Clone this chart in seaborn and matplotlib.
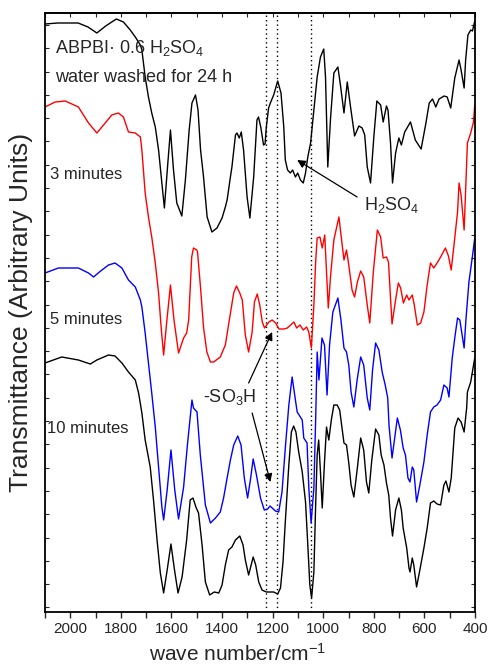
import numpy as np
import pandas as pd
import matplotlib
matplotlib.use("Agg")
import matplotlib.pyplot as plt
import seaborn as sns

# ---------------- data (wavenumber cm-1, transmittance arbitrary units) ----------------
wn_24h = [2100, 2050, 1969, 1930, 1895, 1860, 1818, 1790, 1763, 1743, 1723, 1717, 1704, 1691, 1678,
          1664, 1651, 1638, 1628, 1615, 1604, 1592, 1579, 1559, 1545, 1530, 1519, 1505, 1495, 1485,
          1474, 1459, 1440, 1420, 1400, 1387, 1380, 1367, 1361, 1347, 1341, 1332, 1324, 1315, 1301,
          1290, 1275, 1262, 1256, 1247, 1236, 1230, 1225, 1216, 1209, 1196, 1180, 1167, 1156, 1150,
          1141, 1130, 1121, 1110, 1101, 1090, 1079, 1070, 1061, 1050, 1037, 1024, 1011, 998, 991,
          982, 971, 958, 942, 931, 918, 905, 892, 876, 859, 846, 836, 826, 813, 800,
          788, 773, 763, 750, 744, 734, 726, 714, 701, 691, 678, 655, 636, 613, 594,
          581, 568, 555, 542, 522, 510, 496, 480, 463, 455, 443, 437, 428, 417, 410, 401]
t_24h = [588, 589, 589, 585, 579, 586, 593, 590, 582, 575, 567, 562, 535, 515, 499,
         485, 462, 429, 404, 447, 482, 442, 409, 396, 432, 482, 509, 517, 502, 462,
         437, 395, 380, 384, 394, 405, 412, 435, 445, 477, 479, 474, 480, 462, 415,
         394, 435, 492, 495, 485, 467, 468, 485, 504, 509, 517, 531, 519, 485, 452,
         442, 439, 442, 435, 439, 432, 429, 439, 455, 469, 502, 535, 555, 563, 535,
         445, 494, 539, 545, 525, 499, 530, 505, 476, 486, 484, 477, 445, 429, 475,
         511, 507, 490, 506, 502, 469, 429, 459, 474, 467, 480, 490, 472, 463, 489,
         509, 513, 505, 513, 516, 515, 504, 534, 552, 542, 524, 552, 577, 582, 581, 591]

wn_3m = [2100, 2060, 2020, 1968, 1928, 1895, 1862, 1836, 1810, 1790, 1770, 1743, 1723, 1717, 1704,
         1691, 1678, 1664, 1651, 1640, 1631, 1618, 1604, 1590, 1572, 1552, 1540, 1532, 1520, 1513,
         1500, 1497, 1485, 1473, 1460, 1446, 1433, 1407, 1387, 1370, 1354, 1343, 1330, 1320, 1308,
         1295, 1281, 1272, 1261, 1251, 1241, 1232, 1215, 1202, 1188, 1175, 1156, 1142, 1129, 1116,
         1105, 1092, 1079, 1066, 1057, 1047, 1037, 1030, 1024, 1013, 1004, 994, 984, 980, 971,
         958, 938, 925, 918, 908, 899, 886, 876, 865, 852, 840, 826, 816, 802, 786,
         773, 763, 750, 742, 734, 728, 714, 703, 694, 683, 670, 661, 648, 640, 628,
         615, 602, 589, 576, 563, 550, 536, 517, 505, 494, 480, 469, 463, 455, 443,
         430, 417, 406, 401]
t_3m = [505, 510, 511, 505, 489, 479, 489, 497, 499, 495, 480, 479, 475, 462, 419,
        395, 375, 349, 319, 282, 257, 292, 327, 292, 259, 274, 279, 292, 355, 364,
        362, 360, 324, 284, 260, 250, 250, 255, 267, 294, 319, 326, 319, 312, 277,
        260, 280, 310, 318, 307, 290, 284, 290, 292, 289, 283, 283, 284, 287, 290,
        284, 287, 282, 285, 280, 264, 307, 350, 374, 375, 364, 377, 324, 304, 336,
        372, 395, 367, 352, 362, 347, 322, 315, 330, 341, 335, 307, 289, 340, 382,
        375, 354, 355, 350, 314, 288, 312, 329, 324, 309, 317, 312, 317, 307, 287,
        289, 300, 327, 349, 344, 349, 355, 364, 356, 342, 374, 400, 429, 417, 382,
        469, 479, 490, 507]

wn_5m = [2100, 2047, 1968, 1928, 1908, 1885, 1849, 1823, 1796, 1770, 1743, 1723, 1717, 1704, 1691,
         1678, 1664, 1651, 1638, 1631, 1617, 1602, 1587, 1572, 1552, 1537, 1519, 1513, 1499, 1486,
         1466, 1446, 1426, 1407, 1394, 1380, 1367, 1354, 1338, 1325, 1312, 1299, 1288, 1277, 1264,
         1248, 1233, 1220, 1210, 1202, 1189, 1176, 1163, 1149, 1136, 1123, 1110, 1103, 1083, 1077,
         1064, 1057, 1048, 1037, 1030, 1024, 1017, 1005, 995, 985, 975, 962, 942, 930, 918,
         908, 899, 890, 879, 866, 852, 840, 826, 816, 805, 793, 780, 767, 755, 745,
         740, 728, 707, 695, 684, 675, 665, 657, 648, 642, 631, 618, 602, 589, 576,
         563, 550, 536, 523, 510, 503, 490, 480, 469, 460, 443, 436, 424, 411, 401]
t_5m = [339, 344, 344, 339, 335, 340, 347, 349, 344, 332, 325, 312, 305, 279, 249,
        219, 185, 145, 105, 92, 122, 162, 122, 93, 125, 167, 212, 204, 200, 157,
        107, 89, 94, 100, 114, 134, 152, 167, 176, 167, 134, 114, 132, 153, 137,
        114, 102, 103, 106, 104, 101, 100, 120, 167, 207, 235, 212, 200, 192, 174,
        169, 124, 89, 124, 192, 260, 232, 274, 267, 217, 267, 300, 314, 292, 264,
        260, 247, 220, 205, 232, 255, 247, 214, 202, 242, 269, 262, 240, 227, 214,
        187, 154, 194, 182, 164, 157, 134, 130, 145, 142, 110, 127, 150, 177, 200,
        205, 207, 212, 227, 224, 215, 254, 274, 294, 292, 264, 292, 330, 354, 374]

wn_10m = [2100, 2034, 1968, 1921, 1895, 1849, 1823, 1796, 1770, 1743, 1730, 1717, 1704, 1684, 1671,
          1657, 1644, 1631, 1617, 1602, 1588, 1574, 1558, 1540, 1526, 1515, 1502, 1493, 1479, 1466,
          1449, 1431, 1413, 1400, 1387, 1374, 1361, 1347, 1330, 1317, 1308, 1295, 1277, 1267, 1255,
          1242, 1225, 1209, 1196, 1180, 1169, 1159, 1150, 1136, 1126, 1117, 1108, 1097, 1083, 1070,
          1061, 1053, 1046, 1037, 1030, 1024, 1018, 1011, 1004, 995, 987, 978, 968, 958, 945,
          935, 918, 908, 899, 890, 879, 866, 852, 840, 829, 820, 808, 793, 780, 771,
          760, 750, 741, 734, 726, 714, 701, 691, 684, 670, 661, 657, 648, 642, 631,
          618, 602, 589, 576, 563, 550, 536, 523, 515, 503, 494, 480, 467, 455, 443,
          433, 430, 417, 401]
t_10m = [249, 255, 252, 248, 252, 257, 256, 249, 240, 232, 219, 199, 172, 145, 112,
         72, 39, 19, 42, 68, 42, 19, 35, 72, 112, 114, 104, 99, 67, 30,
         17, 20, 19, 27, 47, 62, 65, 72, 76, 67, 52, 37, 55, 47, 30,
         22, 20, 20, 20, 18, 24, 50, 90, 147, 180, 186, 180, 160, 140, 110,
         67, 27, 14, 40, 107, 157, 172, 140, 104, 150, 185, 172, 192, 207, 207,
         202, 169, 167, 149, 127, 115, 142, 174, 162, 130, 119, 152, 183, 177, 157,
         147, 129, 117, 94, 76, 102, 114, 102, 84, 64, 44, 40, 54, 47, 25,
         42, 64, 84, 109, 111, 108, 107, 127, 131, 120, 134, 184, 194, 190, 180,
         204, 220, 230, 254]

series_names = ["24 h", "3 minutes", "5 minutes", "10 minutes"]
series_colors = ["black", "red", "blue", "black"]
marker_lines = [1225, 1183, 1047]          # dotted reference wavenumbers
x_ticks = [2000, 1800, 1600, 1400, 1200, 1000, 800, 600, 400]

# ---------------- figure ----------------
sns.set_style("ticks")
plt.rcParams["font.family"] = ["Liberation Sans", "DejaVu Sans"]
plt.rcParams["mathtext.fontset"] = "custom"
plt.rcParams["mathtext.rm"] = "Liberation Sans"
plt.rcParams["mathtext.it"] = "Liberation Sans:italic"
plt.rcParams["mathtext.bf"] = "Liberation Sans:bold"

fig = plt.figure(figsize=(4.89, 6.66), dpi=100)
ax = fig.add_axes([45 / 489, 1 - 612 / 666, 430 / 489, 599 / 666])

frames = []
for name, wn, t in zip(series_names, [wn_24h, wn_3m, wn_5m, wn_10m], [t_24h, t_3m, t_5m, t_10m]):
    frames.append(pd.DataFrame({"wavenumber": wn, "T": t, "sample": name}))
df = pd.concat(frames, ignore_index=True)

for name, col in zip(series_names, series_colors):
    sub = df[df["sample"] == name]
    sns.lineplot(data=sub, x="wavenumber", y="T", color=col, lw=1.0, ax=ax,
                 errorbar=None, legend=False)

for xv in marker_lines:
    ax.axvline(xv, color="black", lw=1.0, ls=(0, (1, 2.2)), zorder=1)

ax.set_xlim(2100, 400)
ax.set_ylim(0, 599)
ax.set_xticks(x_ticks)
ax.set_xticks(np.arange(2100, 399, -100), minor=True)
ax.tick_params(axis="x", which="both", direction="out", length=4, width=1, labelsize=11,
               top=False, pad=3)
ax.set_yticks(np.arange(587, 0, -23.3))
ax.set_yticklabels([])
ax.tick_params(axis="y", which="both", direction="in", length=3, width=0.8, left=True, right=True)
# top inward ticks via secondary axis
sec = ax.secondary_xaxis("top")
sec.set_xticks(np.arange(2100, 399, -100))
sec.tick_params(direction="in", length=3, width=0.8, labeltop=False)
sec.spines["top"].set_linewidth(1.3)

for s in ax.spines.values():
    s.set_linewidth(1.3)
    s.set_color("black")

ax.set_xlabel("wave number/cm$^{-1}$", fontsize=15)
ax.xaxis.set_label_coords(0.448, -0.052)
ax.set_ylabel("Transmittance (Arbitrary Units)", fontsize=19, labelpad=5)

# labels
ax.text(2060, 559, "ABPBI\u00b7 0.6 H$_2$SO$_4$", fontsize=13, va="baseline", ha="left")
ax.text(2060, 530, "water washed for 24 h", fontsize=13, va="baseline", ha="left")
ax.text(2080, 433, "3 minutes", fontsize=12, va="baseline", ha="left")
ax.text(2080, 288, "5 minutes", fontsize=12, va="baseline", ha="left")
ax.text(2093, 179, "10 minutes", fontsize=12, va="baseline", ha="left")
ax.text(840, 402, "H$_2$SO$_4$", fontsize=13, va="baseline", ha="left")
ax.text(1474, 210, "-SO$_3$H", fontsize=13, va="baseline", ha="left")

aprops = dict(arrowstyle="-|>", color="black", lw=0.9, mutation_scale=12, shrinkA=0, shrinkB=0)
ax.annotate("", xy=(1103, 452), xytext=(866, 415), arrowprops=aprops)
ax.annotate("", xy=(1202, 280), xytext=(1295, 229), arrowprops=aprops)
ax.annotate("", xy=(1209, 130), xytext=(1281, 199), arrowprops=aprops)

fig.savefig("out.png", dpi=100)
